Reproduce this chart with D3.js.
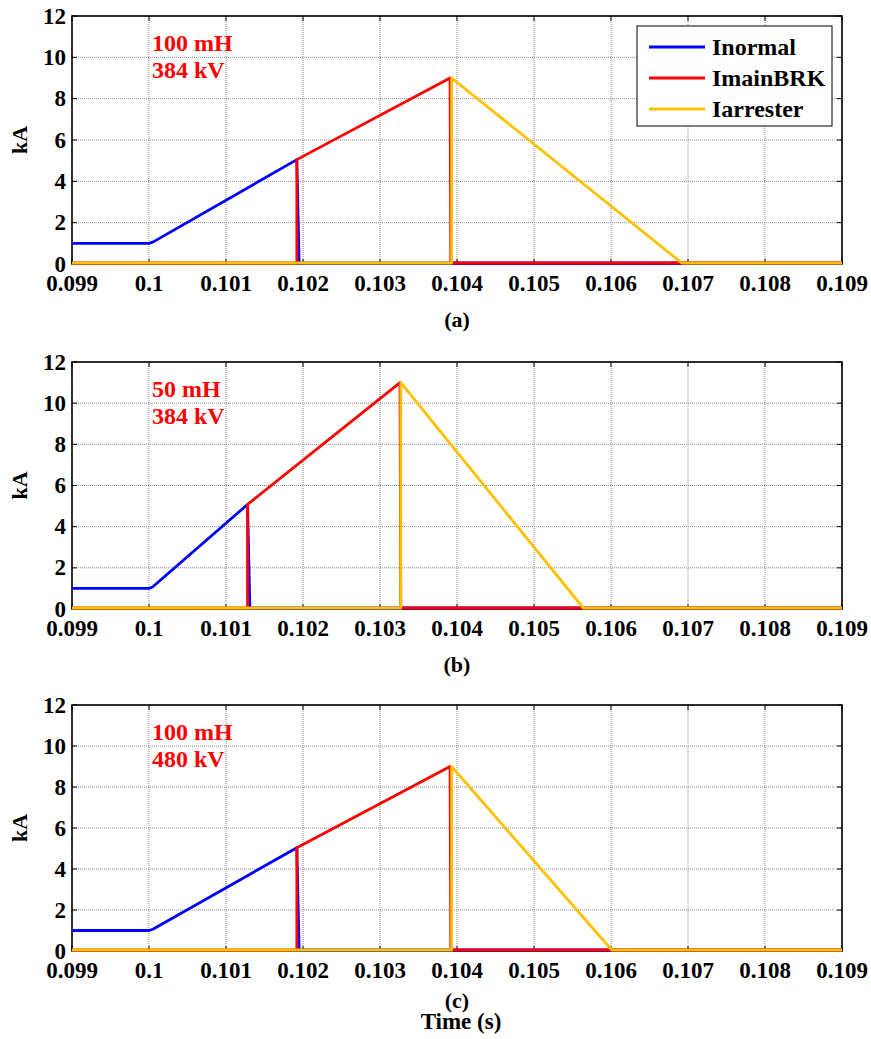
<!DOCTYPE html>
<html>
<head>
<meta charset="utf-8">
<script src="https://cdn.jsdelivr.net/npm/d3@7"></script>
<style>
  body { margin: 0; background: #fff; }
  text { font-family: "Liberation Serif", "Times New Roman", serif; font-weight: bold; }
</style>
</head>
<body>
<div id="viz_area"></div>
<script>
// ---- data ----
var xTicks = [0.099, 0.100, 0.101, 0.102, 0.103, 0.104, 0.105, 0.106, 0.107, 0.108, 0.109];
var xTickLabels = ["0.099", "0.1", "0.101", "0.102", "0.103", "0.104", "0.105", "0.106", "0.107", "0.108", "0.109"];
var yTicks = [0, 2, 4, 6, 8, 10, 12];
var seriesNames = ["Inormal", "ImainBRK", "Iarrester"];
var panelLabels = ["(a)", "(b)", "(c)"];
var panelNotes = [["100 mH", "384 kV"], ["50 mH", "384 kV"], ["100 mH", "480 kV"]];

// [time (s), current (kA)]
var a_Inormal   = [[0.099, 1], [0.1, 1], [0.10005, 1.06], [0.10192, 5.05], [0.10195, 0], [0.109, 0]];
var a_ImainBRK  = [[0.099, 0], [0.10192, 0], [0.10192, 5.05], [0.10391, 9.0], [0.10392, 0], [0.109, 0]];
var a_Iarrester = [[0.099, 0], [0.10393, 0], [0.10393, 9.0], [0.10692, 0], [0.109, 0]];

var b_Inormal   = [[0.099, 1], [0.1, 1], [0.10005, 1.08], [0.10128, 5.08], [0.10131, 0], [0.109, 0]];
var b_ImainBRK  = [[0.099, 0], [0.10128, 0], [0.10128, 5.08], [0.10326, 11.0], [0.10327, 0], [0.109, 0]];
var b_Iarrester = [[0.099, 0], [0.10327, 0], [0.10327, 11.0], [0.10564, 0], [0.109, 0]];

var c_Inormal   = [[0.099, 1], [0.1, 1], [0.10005, 1.06], [0.10192, 5.04], [0.10195, 0], [0.109, 0]];
var c_ImainBRK  = [[0.099, 0], [0.10192, 0], [0.10192, 5.04], [0.10391, 9.0], [0.10392, 0], [0.109, 0]];
var c_Iarrester = [[0.099, 0], [0.10393, 0], [0.10393, 9.0], [0.10601, 0], [0.109, 0]];

var panelSeries = [
	[a_Inormal, a_ImainBRK, a_Iarrester],
	[b_Inormal, b_ImainBRK, b_Iarrester],
	[c_Inormal, c_ImainBRK, c_Iarrester]
];

// ---- styles / layout ----
var colors = ["#0000ff", "#ff0000", "#ffc000"];
var w = 871, h = 1039;
var left = 72, right = 842;
var panelTops = [16, 362, 705];
var panelBottoms = [264, 609, 951];
var labelYs = [327, 672, 1008];

function __init__() {
	var svg = d3.select("#viz_area")
		.append("svg")
		.attr("width", w)
		.attr("height", h);

	for (var p = 0; p < 3; p++) {
		drawPanel(svg, p);
	}

	svg.append("text")
		.attr("x", 461)
		.attr("y", 1029)
		.attr("text-anchor", "middle")
		.style("font-size", "23px")
		.text("Time (s)");
}

function drawPanel(svg, p) {
	var top = panelTops[p], bottom = panelBottoms[p];

	var x = d3.scaleLinear().domain([0.099, 0.109]).range([left, right]);
	var y = d3.scaleLinear().domain([0, 12]).range([bottom, top]);

	var g = svg.append("g");

	// grid
	g.selectAll(".vgrid").data(xTicks).enter().append("line")
		.attr("x1", (d) => x(d)).attr("x2", (d) => x(d))
		.attr("y1", top).attr("y2", bottom)
		.style("stroke", "#8a8a8a").style("stroke-width", 1).style("stroke-dasharray", "1,1");
	g.selectAll(".hgrid").data(yTicks).enter().append("line")
		.attr("x1", left).attr("x2", right)
		.attr("y1", (d) => y(d)).attr("y2", (d) => y(d))
		.style("stroke", "#8a8a8a").style("stroke-width", 1).style("stroke-dasharray", "1,1");

	// inner ticks (matlab style)
	var tl = 5;
	g.selectAll(".xtb").data(xTicks).enter().append("line")
		.attr("x1", (d) => x(d)).attr("x2", (d) => x(d))
		.attr("y1", bottom).attr("y2", bottom - tl)
		.style("stroke", "black");
	g.selectAll(".xtt").data(xTicks).enter().append("line")
		.attr("x1", (d) => x(d)).attr("x2", (d) => x(d))
		.attr("y1", top).attr("y2", top + tl)
		.style("stroke", "black");
	g.selectAll(".ytl").data(yTicks).enter().append("line")
		.attr("x1", left).attr("x2", left + tl)
		.attr("y1", (d) => y(d)).attr("y2", (d) => y(d))
		.style("stroke", "black");
	g.selectAll(".ytr").data(yTicks).enter().append("line")
		.attr("x1", right).attr("x2", right - tl)
		.attr("y1", (d) => y(d)).attr("y2", (d) => y(d))
		.style("stroke", "black");

	// box (under the traces, the zero lines sit on it)
	g.append("rect")
		.attr("x", left).attr("y", top)
		.attr("width", right - left).attr("height", bottom - top)
		.style("fill", "none").style("stroke", "black").style("stroke-width", 1.6);

	// tick labels
	g.selectAll(".xlab").data(xTicks).enter().append("text")
		.attr("x", (d) => x(d))
		.attr("y", bottom + 27)
		.attr("text-anchor", "middle")
		.style("font-size", "23px")
		.text((d, i) => xTickLabels[i]);
	g.selectAll(".ylab").data(yTicks).enter().append("text")
		.attr("x", left - 6)
		.attr("y", (d) => y(d))
		.attr("dy", "0.33em")
		.attr("text-anchor", "end")
		.style("font-size", "23px")
		.text((d) => d);

	// y axis title
	g.append("text")
		.attr("transform", "translate(27," + ((top + bottom) / 2) + ") rotate(-90)")
		.attr("text-anchor", "middle")
		.style("font-size", "22px")
		.text("kA");

	// the current traces
	var line = d3.line().x((d) => x(d[0])).y((d) => y(d[1]) - (d[1] == 0 ? 1 : 0));
	panelSeries[p].forEach(function(s, i) {
		g.append("path")
			.datum(s)
			.attr("d", line)
			.style("fill", "none")
			.style("stroke", colors[i])
			.style("stroke-width", 2.8)
			.style("stroke-linejoin", "round");
	});

	// annotation
	panelNotes[p].forEach(function(t, i) {
		g.append("text")
			.attr("x", 152)
			.attr("y", top + 35 + i * 27)
			.style("font-size", "24px")
			.style("fill", "#ff0000")
			.text(t);
	});

	// panel label
	g.append("text")
		.attr("x", (left + right) / 2)
		.attr("y", labelYs[p])
		.attr("text-anchor", "middle")
		.style("font-size", "22px")
		.text(panelLabels[p]);

	// legend only in the first panel
	if (p == 0) {
		var lg = g.append("g");
		lg.append("rect")
			.attr("x", 637).attr("y", 26).attr("width", 195).attr("height", 100)
			.style("fill", "white").style("stroke", "black").style("stroke-width", 1);
		seriesNames.forEach(function(n, i) {
			var cy = 47 + i * 31;
			lg.append("line")
				.attr("x1", 649).attr("x2", 705).attr("y1", cy).attr("y2", cy)
				.style("stroke", colors[i]).style("stroke-width", 3);
			lg.append("text")
				.attr("x", 712).attr("y", cy).attr("dy", "0.35em")
				.style("font-size", "24px")
				.text(n);
		});
	}
}

window.onload = __init__;
</script>
</body>
</html>
